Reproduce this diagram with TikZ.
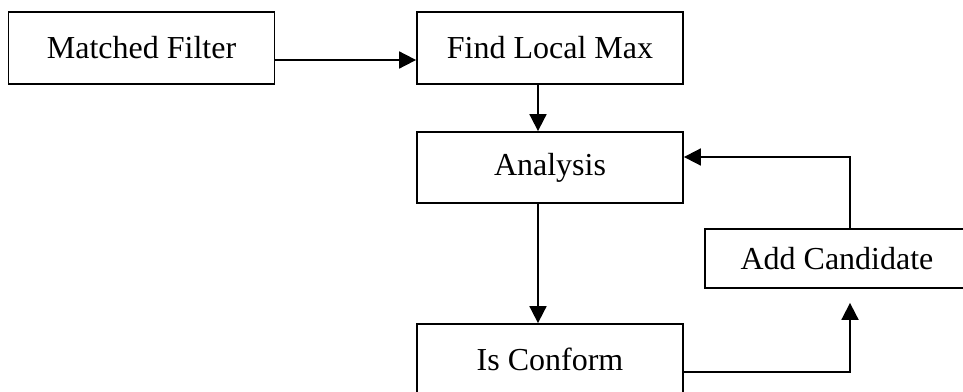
\documentclass[tikz,border=0pt]{standalone}
\usepackage{fontspec}
\setmainfont{Liberation Serif}
\usetikzlibrary{arrows.meta}
\tikzstyle{block} = [rectangle,
minimum width=133pt,
minimum height=36pt,
text centered,
draw=black, line width=0.9pt,
font=\fontsize{16}{19}\selectfont]
\tikzstyle{arrow} = [line width=0.9pt,-{Triangle[length=8.5pt,width=8.5pt]}]

\begin{document}
\begin{tikzpicture}[x=0.5pt, y=-0.5pt]
        \clip (0,0) rectangle (963,391);
        \node (matched) [block] at (141.5,48) {Matched Filter};
        \node (findmax) [block] at (550,48) {Find Local Max};
        \node (analysis) [block, minimum height=35.5pt] at (550,167.5) {Analysis};
        \node (conform) [block, minimum height=35.5pt] at (550,359.5) {Is Conform};
        \node (addcand) [block, minimum height=29.5pt, minimum width=132pt] at (837,258.5) {Add Candidate};

        \draw [arrow] ([yshift=-6pt]matched.east) -- ([yshift=-6pt]findmax.west);
        \draw [arrow] ([xshift=-6pt]findmax.south) -- ([xshift=-6pt]analysis.north);
        \draw [arrow] ([xshift=-6pt]analysis.south) -- ([xshift=-6pt]conform.north);
        \draw [arrow] ([yshift=-6.25pt]conform.east) -| ([xshift=6.5pt,yshift=-7pt]addcand.south);
        \draw [arrow] ([xshift=6.5pt]addcand.north) |- ([yshift=5.25pt]analysis.east);
    \end{tikzpicture}
\end{document}
